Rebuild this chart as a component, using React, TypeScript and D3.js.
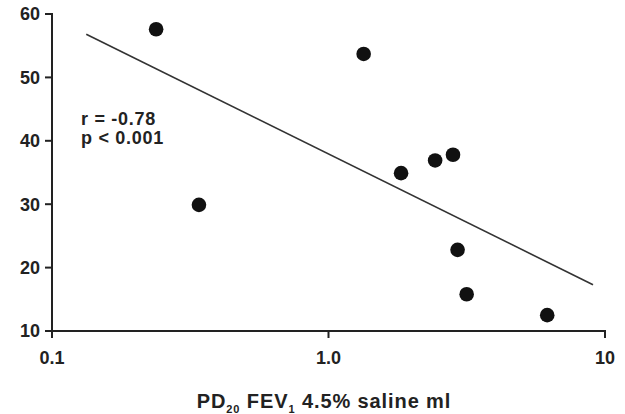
import React from "react";
import * as d3 from "d3";

const xValues = [0.238, 0.34, 1.34, 1.83, 2.43, 2.82, 2.93, 3.16, 6.18];
const yValues = [57.6, 29.9, 53.7, 34.9, 36.9, 37.8, 22.8, 15.8, 12.5];
const fitX = [0.133, 9.05];
const fitY = [56.8, 17.3];
const xTicks = [0.1, 1, 10];
const xTickLabels = ["0.1", "1.0", "10"];
const yTicks = [10, 20, 30, 40, 50, 60];
const statLines = ["r = -0.78", "p < 0.001"];

const W = 625;
const H = 414;
const FONT = "'Liberation Sans', Arial, Helvetica, sans-serif";

export default function App() {
  const x = d3.scaleLog().domain([0.1, 10]).range([52, 605]);
  const y = d3.scaleLinear().domain([10, 60]).range([331, 14]);
  const line = d3
    .line<number>()
    .x((_, i) => x(fitX[i]))
    .y((d) => y(d));

  return (
    <svg
      width={W}
      height={H}
      style={{ position: "absolute", left: 0, top: 0, background: "#fff" }}
      fontFamily={FONT}
    >
      <rect width={W} height={H} fill="#fff" />
      {/* axes */}
      <line x1={x(0.1)} x2={x(0.1)} y1={y(60) - 1} y2={y(10) + 1} stroke="#222" strokeWidth={2} />
      <line x1={x(0.1) - 1} x2={x(10) + 1} y1={y(10)} y2={y(10)} stroke="#222" strokeWidth={2} />
      {yTicks.map((t) => (
        <g key={"y" + t}>
          <line x1={x(0.1) - 7} x2={x(0.1)} y1={y(t)} y2={y(t)} stroke="#222" strokeWidth={2} />
          <text
            x={40}
            y={y(t)}
            dy="0.36em"
            textAnchor="end"
            fontSize={18}
            fontWeight="bold"
            fill="#222"
          >
            {t}
          </text>
        </g>
      ))}
      {xTicks.map((t, i) => (
        <g key={"x" + t}>
          <line x1={x(t)} x2={x(t)} y1={y(10)} y2={y(10) + 7} stroke="#222" strokeWidth={2} />
          <text
            x={x(t)}
            y={364}
            textAnchor="middle"
            fontSize={18}
            fontWeight="bold"
            fill="#222"
          >
            {xTickLabels[i]}
          </text>
        </g>
      ))}
      {/* regression line */}
      <path d={line(fitY) || ""} fill="none" stroke="#333" strokeWidth={1.6} />
      {/* points */}
      {xValues.map((v, i) => (
        <circle key={i} cx={x(v)} cy={y(yValues[i])} r={7.3} fill="#111" />
      ))}
      {/* stats */}
      {statLines.map((s, i) => (
        <text
          key={s}
          x={81}
          y={125 + i * 19}
          fontSize={18}
          fontWeight="bold"
          fill="#222"
          letterSpacing={0.7}
        >
          {s}
        </text>
      ))}
      {/* x axis title */}
      <text x={324} y={408} textAnchor="middle" fontSize={20} fontWeight="bold" fill="#222" letterSpacing={0.9}>
        <tspan>PD</tspan>
        <tspan fontSize={11} dy={5}>20</tspan>
        <tspan dy={-5}> FEV</tspan>
        <tspan fontSize={11} dy={5}>1</tspan>
        <tspan dy={-5}> 4.5% saline ml</tspan>
      </text>
    </svg>
  );
}
